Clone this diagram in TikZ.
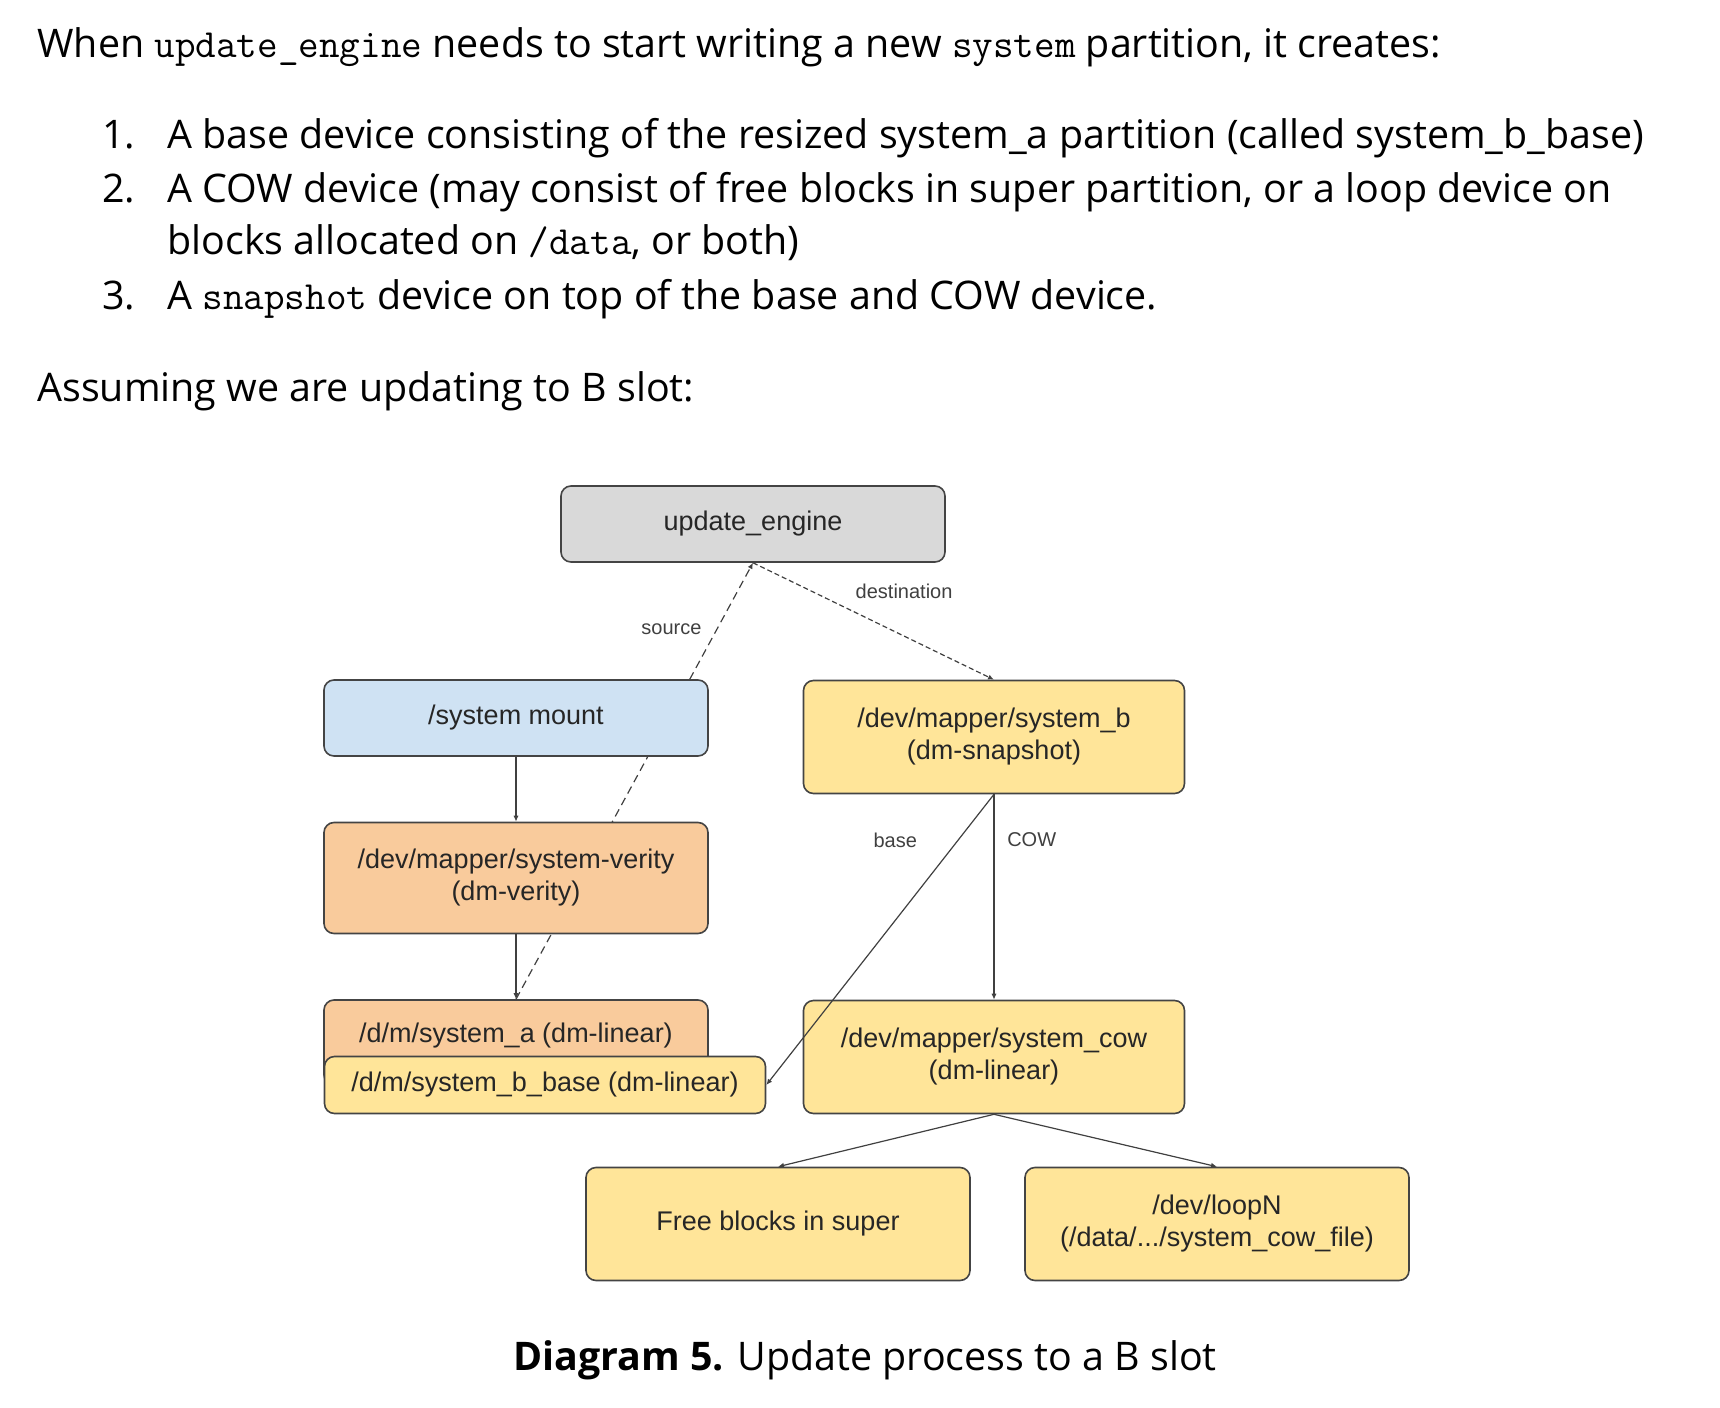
\documentclass[tikz,border=0pt]{standalone}
\usepackage{fontspec}
\setmainfont{Open Sans}
\newfontfamily\boxfont{Liberation Sans}
\usepackage{xcolor}
\usepackage{tikz}
\usetikzlibrary{arrows.meta, backgrounds}

\definecolor{uegray}{HTML}{D9D9D9}
\definecolor{mountblue}{HTML}{CFE2F3}
\definecolor{devyellow}{HTML}{FFE599}
\definecolor{dmorange}{HTML}{F9CB9C}
\definecolor{edgegray}{HTML}{444444}

\newcommand{\code}[1]{{\ttfamily\fontsize{20}{22}\selectfont #1}}

\tikzset{
  devbox/.style={draw=edgegray, line width=0.8pt, rounded corners=5pt, align=center,
    font=\boxfont\fontsize{13.5}{16}\selectfont, text=black!85, inner sep=0pt},
  link/.style={draw=black!75, line width=0.6pt, -{Latex[length=3pt,width=2.6pt]}},
  linklabel/.style={font=\boxfont\fontsize{10}{12}\selectfont, text=black!75},
  bodytext/.style={anchor=base west, inner sep=0pt, font=\fontsize{19.7}{23}\selectfont}
}

\begin{document}
\begin{tikzpicture}[x=0.5pt, y=-0.5pt]
			\useasboundingbox (0, 0) rectangle (1720, 1408);
			% text above the diagram
			\node[bodytext] (intro) at (37, 57) {When \code{update\_engine} needs to start writing a new \code{system} partition, it creates:};
			\node[bodytext] (n1) at (102, 148) {1.};
			\node[bodytext] (i1) at (167, 148) {A base device consisting of the resized system\_a partition (called system\_b\_base)};
			\node[bodytext] (n2) at (102, 202) {2.};
			\node[bodytext] (i2) at (167, 202) {A COW device (may consist of free blocks in super partition, or a loop device on};
			\node[bodytext] (i2b) at (167, 254) {blocks allocated on \code{/data}, or both)};
			\node[bodytext] (n3) at (102, 309) {3.};
			\node[bodytext] (i3) at (167, 309) {A \code{snapshot} device on top of the base and COW device.};
			\node[bodytext] (assume) at (37, 401) {Assuming we are updating to B slot:};

			% boxes (sizes in pt, half the pixel size)
			\node[devbox, fill=uegray, minimum width=192pt, minimum height=38pt] (ue) at (753, 524) {update\_engine};
			\node[devbox, fill=mountblue, minimum width=192pt, minimum height=38pt] (mount) at (516, 718) {/system mount};
			\node[devbox, fill=dmorange, minimum width=192pt, minimum height=55.5pt] (verity) at (516, 878) {/dev/mapper/system-verity\\(dm-verity)};
			\node[devbox, fill=dmorange, minimum width=192pt, minimum height=42.5pt, text height=8pt, text depth=8pt] (sysa) at (516, 1042.5) {/d/m/system\_a (dm-linear)};
			\node[devbox, fill=devyellow, minimum width=220.5pt, minimum height=28.5pt] (sysbase) at (545, 1085) {/d/m/system\_b\_base (dm-linear)};
			\node[devbox, fill=devyellow, minimum width=190.5pt, minimum height=56.5pt] (sysb) at (994, 737) {/dev/mapper/system\_b\\(dm-snapshot)};
			\node[devbox, fill=devyellow, minimum width=190.5pt, minimum height=56.5pt] (cow) at (994, 1057) {/dev/mapper/system\_cow\\(dm-linear)};
			\node[devbox, fill=devyellow, minimum width=192pt, minimum height=56.5pt] (free) at (778, 1224) {Free blocks in super};
			\node[devbox, fill=devyellow, minimum width=192pt, minimum height=56.5pt] (loop) at (1217, 1224) {/dev/loopN\\(/data/.../system\_cow\_file)};

			% connectors, behind the boxes
			\begin{scope}[on background layer]
				\draw[link, dash pattern=on 4pt off 2.5pt] (sysa.north) -- (ue.south) node[pos=0.847, left=4pt, linklabel]{source};
				\draw[link, dash pattern=on 2.5pt off 1.5pt] (ue.south) -- (sysb.north) node[pos=0.627, above=15pt, linklabel]{destination};
			\end{scope}
			\draw[link] (mount) -- (verity);
			\draw[link] (verity) -- (sysa.north);
			\draw[link] (sysb.south) -- (sysbase.east) node[pos=0.157, left=17pt, linklabel]{base};
			\draw[link] (sysb.south) -- (cow.north) node[pos=0.22, right=3pt, linklabel]{COW};
			\draw[link] (cow.south) -- (free.north);
			\draw[link] (cow.south) -- (loop.north);

			% caption
			\node[font=\fontsize{19.7}{23}\selectfont, anchor=base] (caption) at (865, 1370) {\textbf{Diagram 5.} Update process to a B slot};
		\end{tikzpicture}
\end{document}
